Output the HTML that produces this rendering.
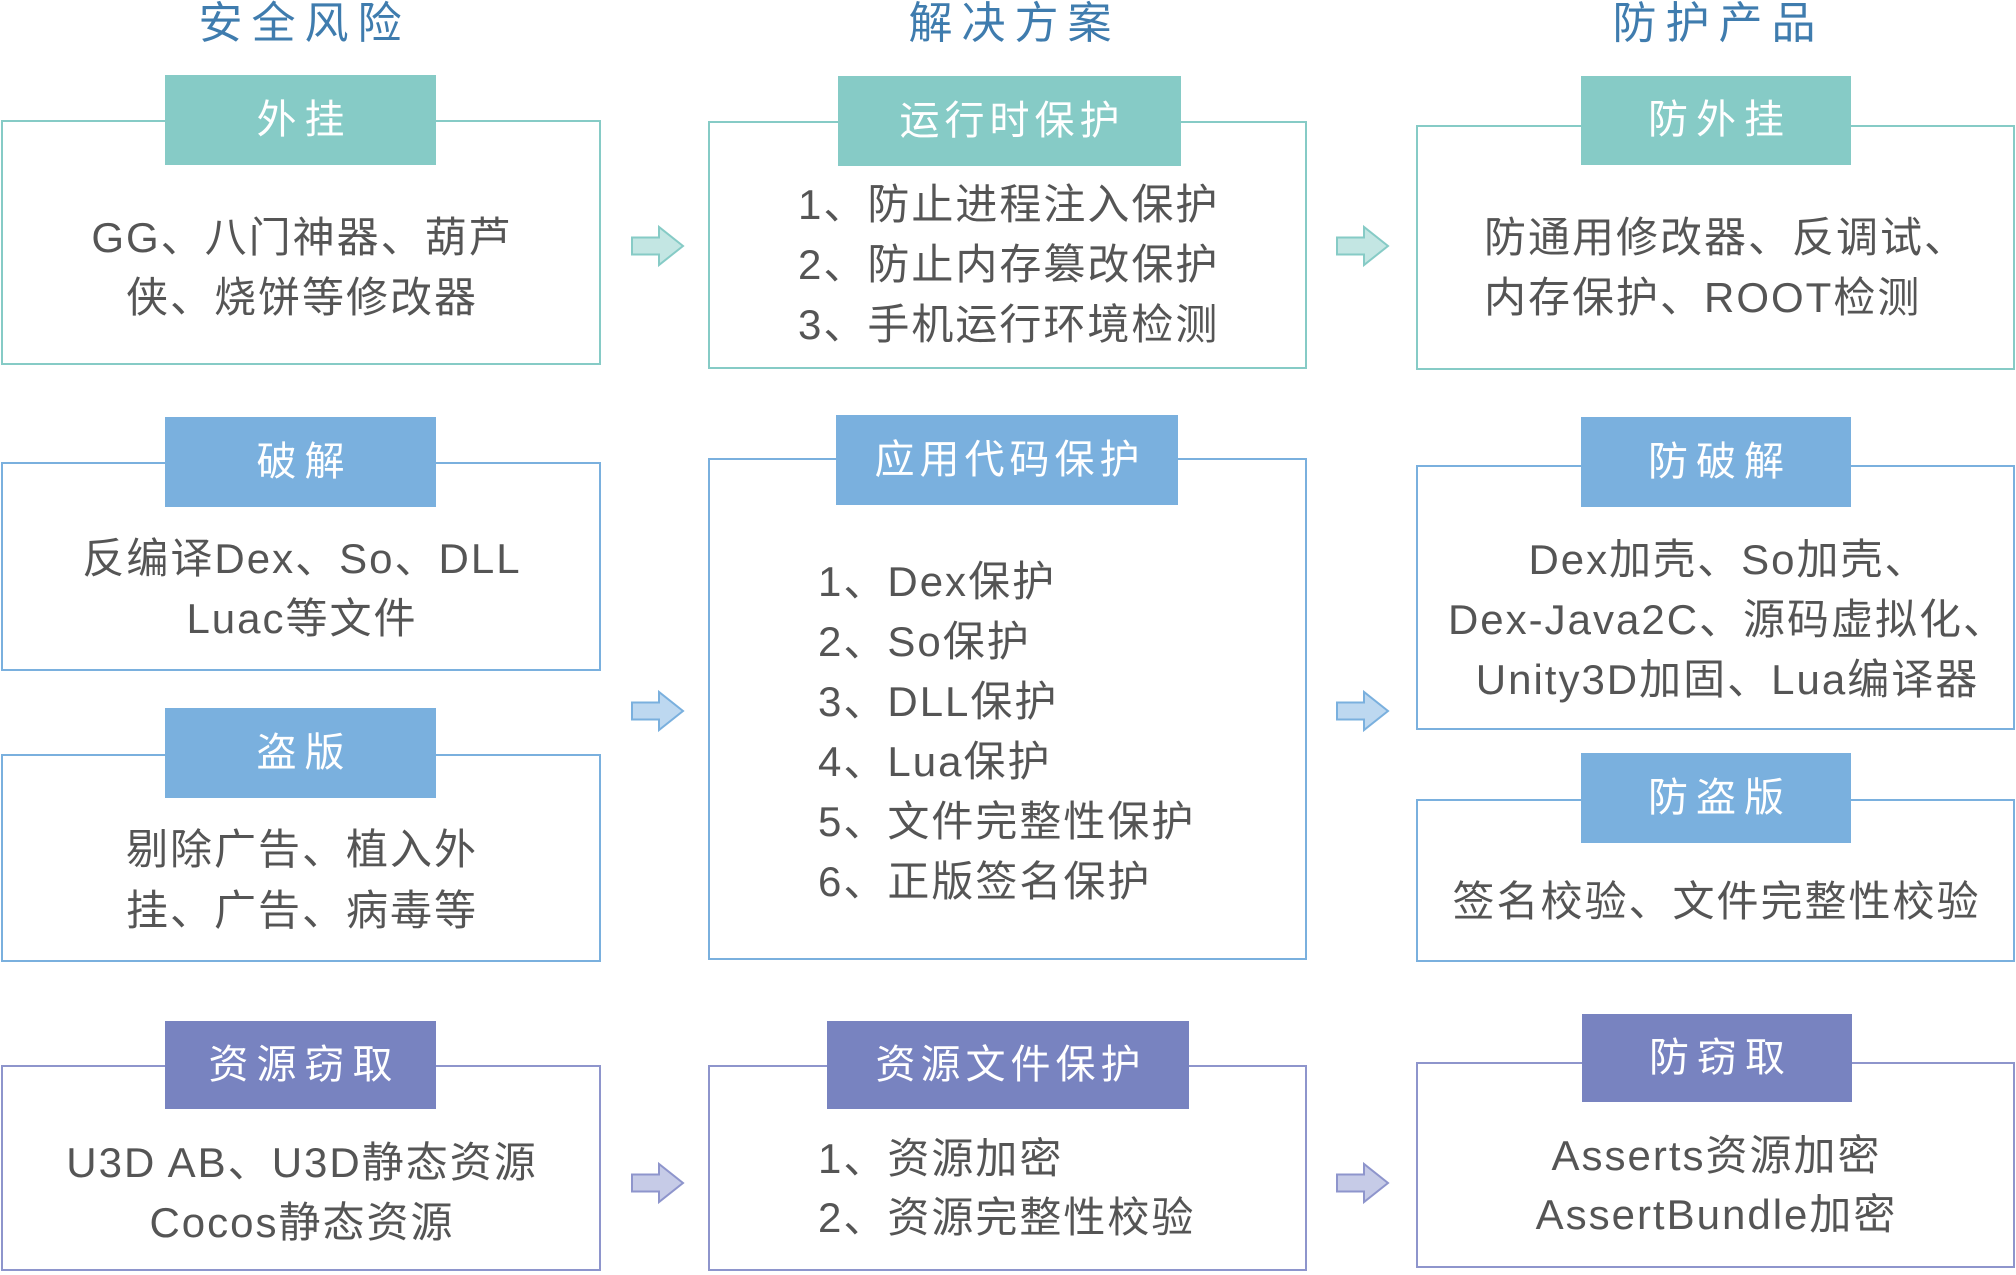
<!DOCTYPE html>
<html><head><meta charset="utf-8">
<style>
html,body{margin:0;padding:0;background:#fff;}
#c{position:relative;width:2016px;height:1275px;overflow:hidden;background:#fff;font-family:"Liberation Sans","Noto Sans CJK SC",sans-serif;}
.box{position:absolute;box-sizing:border-box;border:2px solid;background:#fff;}
.hd{position:absolute;color:#fff;font-size:40px;text-align:center;white-space:nowrap;}
.t{position:absolute;height:60px;line-height:60px;font-size:42px;letter-spacing:2px;color:#555;white-space:nowrap;}
.l{letter-spacing:2px;}
.ctr{text-align:center;padding-left:2px;box-sizing:border-box;}
.ti{position:absolute;top:-6px;height:60px;line-height:60px;font-size:44px;letter-spacing:9px;padding-left:9px;box-sizing:border-box;color:#3f7cae;text-align:center;width:400px;white-space:nowrap;}
.tl{border-color:#86cbc6;} .tlb{background:#86cbc6;}
.bl{border-color:#7ab0de;} .blb{background:#7ab0de;}
.pu{border-color:#8e95cc;} .pub{background:#7883c0;}
</style></head><body>
<div id="c">
<!-- titles -->
<div class="ti" style="left:100px;">安全风险</div>
<div class="ti" style="left:810px;">解决方案</div>
<div class="ti" style="left:1514px;">防护产品</div>

<!-- boxes -->
<div class="box tl" style="left:1px;top:120px;width:600px;height:245px;"></div>
<div class="box tl" style="left:708px;top:121px;width:599px;height:248px;"></div>
<div class="box tl" style="left:1416px;top:125px;width:599px;height:245px;"></div>

<div class="box bl" style="left:1px;top:462px;width:600px;height:209px;"></div>
<div class="box bl" style="left:1px;top:754px;width:600px;height:208px;"></div>
<div class="box bl" style="left:708px;top:458px;width:599px;height:502px;"></div>
<div class="box bl" style="left:1416px;top:465px;width:599px;height:265px;"></div>
<div class="box bl" style="left:1416px;top:799px;width:599px;height:163px;"></div>

<div class="box pu" style="left:1px;top:1065px;width:600px;height:206px;"></div>
<div class="box pu" style="left:708px;top:1065px;width:599px;height:206px;"></div>
<div class="box pu" style="left:1416px;top:1062px;width:599px;height:206px;"></div>

<!-- headers -->
<div class="hd tlb" style="left:165px;top:75px;width:271px;height:90px;line-height:90px;letter-spacing:8px;padding-left:8px;box-sizing:border-box;">外挂</div>
<div class="hd tlb" style="left:838px;top:76px;width:343px;height:90px;line-height:90px;letter-spacing:5px;padding-left:5px;box-sizing:border-box;">运行时保护</div>
<div class="hd tlb" style="left:1581px;top:76px;width:270px;height:89px;line-height:89px;letter-spacing:8px;padding-left:8px;box-sizing:border-box;">防外挂</div>

<div class="hd blb" style="left:165px;top:417px;width:271px;height:90px;line-height:90px;letter-spacing:8px;padding-left:8px;box-sizing:border-box;">破解</div>
<div class="hd blb" style="left:165px;top:708px;width:271px;height:90px;line-height:90px;letter-spacing:8px;padding-left:8px;box-sizing:border-box;">盗版</div>
<div class="hd blb" style="left:836px;top:415px;width:342px;height:90px;line-height:90px;letter-spacing:5px;padding-left:5px;box-sizing:border-box;">应用代码保护</div>
<div class="hd blb" style="left:1581px;top:417px;width:270px;height:90px;line-height:90px;letter-spacing:8px;padding-left:8px;box-sizing:border-box;">防破解</div>
<div class="hd blb" style="left:1581px;top:753px;width:270px;height:90px;line-height:90px;letter-spacing:8px;padding-left:8px;box-sizing:border-box;">防盗版</div>

<div class="hd pub" style="left:165px;top:1021px;width:271px;height:88px;line-height:88px;letter-spacing:8px;padding-left:8px;box-sizing:border-box;">资源窃取</div>
<div class="hd pub" style="left:827px;top:1021px;width:362px;height:88px;line-height:88px;letter-spacing:5px;padding-left:5px;box-sizing:border-box;">资源文件保护</div>
<div class="hd pub" style="left:1582px;top:1014px;width:270px;height:88px;line-height:88px;letter-spacing:8px;padding-left:8px;box-sizing:border-box;">防窃取</div>

<!-- column 1 text -->
<div class="t ctr" style="left:1px;width:600px;top:208px;"><span class="l">GG</span>、八门神器、葫芦</div>
<div class="t ctr" style="left:1px;width:600px;top:268px;">侠、烧饼等修改器</div>
<div class="t ctr" style="left:1px;width:600px;top:529px;">反编译<span class="l">Dex</span>、<span class="l">So</span>、<span class="l">DLL</span></div>
<div class="t ctr" style="left:1px;width:600px;top:589px;"><span class="l">Luac</span>等文件</div>
<div class="t ctr" style="left:1px;width:600px;top:820px;">剔除广告、植入外</div>
<div class="t ctr" style="left:1px;width:600px;top:881px;">挂、广告、病毒等</div>
<div class="t ctr" style="left:1px;width:600px;top:1133px;"><span class="l">U3D AB</span>、<span class="l">U3D</span>静态资源</div>
<div class="t ctr" style="left:1px;width:600px;top:1193px;"><span class="l">Cocos</span>静态资源</div>

<!-- column 2 text -->
<div class="t" style="left:798px;top:175px;">1、防止进程注入保护</div>
<div class="t" style="left:798px;top:235px;">2、防止内存篡改保护</div>
<div class="t" style="left:798px;top:295px;">3、手机运行环境检测</div>

<div class="t" style="left:818px;top:552px;">1、<span class="l">Dex</span>保护</div>
<div class="t" style="left:818px;top:612px;">2、<span class="l">So</span>保护</div>
<div class="t" style="left:818px;top:672px;">3、<span class="l">DLL</span>保护</div>
<div class="t" style="left:818px;top:732px;">4、<span class="l">Lua</span>保护</div>
<div class="t" style="left:818px;top:792px;">5、文件完整性保护</div>
<div class="t" style="left:818px;top:852px;">6、正版签名保护</div>

<div class="t" style="left:818px;top:1129px;">1、资源加密</div>
<div class="t" style="left:818px;top:1188px;">2、资源完整性校验</div>

<!-- column 3 text -->
<div class="t" style="left:1484px;top:208px;">防通用修改器、反调试、</div>
<div class="t" style="left:1484px;top:268px;">内存保护、<span class="l">ROOT</span>检测</div>
<div class="t ctr" style="left:1416px;width:599px;top:530px;padding-left:26px;"><span class="l">Dex</span>加壳、<span class="l">So</span>加壳、</div>
<div class="t ctr" style="left:1416px;width:599px;top:590px;padding-left:24px;"><span class="l">Dex-Java2C</span>、源码虚拟化、</div>
<div class="t ctr" style="left:1416px;width:599px;top:650px;padding-left:24px;"><span class="l">Unity3D</span>加固、<span class="l">Lua</span>编译器</div>
<div class="t ctr" style="left:1416px;width:599px;top:872px;">签名校验、文件完整性校验</div>
<div class="t ctr" style="left:1416px;width:599px;top:1126px;"><span class="l">Asserts</span>资源加密</div>
<div class="t ctr" style="left:1416px;width:599px;top:1185px;"><span class="l">AssertBundle</span>加密</div>

<!-- arrows -->
<svg style="position:absolute;left:0;top:0;" width="2016" height="1275" viewBox="0 0 2016 1275">
  <g stroke-width="2" stroke-linejoin="miter">
    <polygon points="632,237.5 659,237.5 659,227 683,246 659,265 659,254.5 632,254.5" fill="#c3e6e3" stroke="#86cbc6"/>
    <polygon points="1337,237.5 1364,237.5 1364,227 1388,246 1364,265 1364,254.5 1337,254.5" fill="#c3e6e3" stroke="#86cbc6"/>
    <polygon points="632,702.5 659,702.5 659,692 683,711 659,730 659,719.5 632,719.5" fill="#bdd8f0" stroke="#7ab0de"/>
    <polygon points="1337,702.5 1364,702.5 1364,692 1388,711 1364,730 1364,719.5 1337,719.5" fill="#bdd8f0" stroke="#7ab0de"/>
    <polygon points="632,1174.5 659,1174.5 659,1164 683,1183 659,1202 659,1191.5 632,1191.5" fill="#c6cbe7" stroke="#8e95cc"/>
    <polygon points="1337,1174.5 1364,1174.5 1364,1164 1388,1183 1364,1202 1364,1191.5 1337,1191.5" fill="#c6cbe7" stroke="#8e95cc"/>
  </g>
</svg>
</div>
</body></html>
